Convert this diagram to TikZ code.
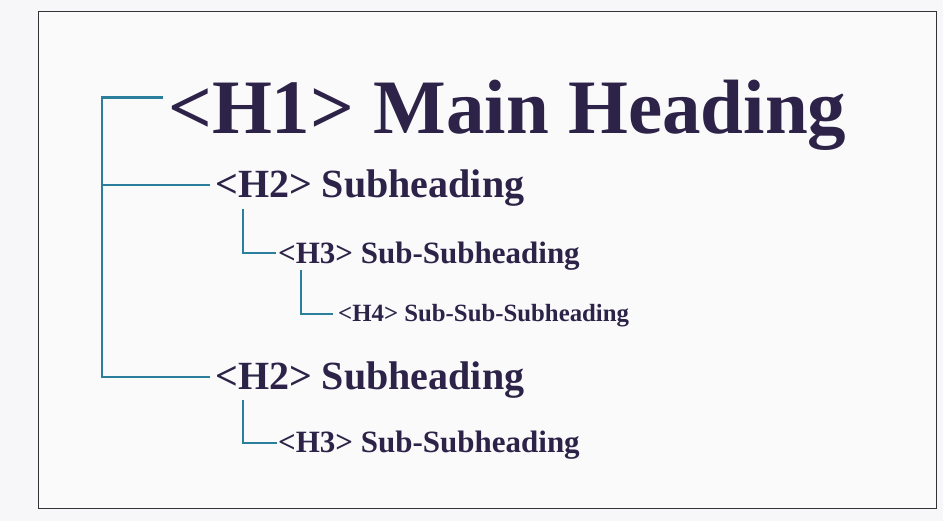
\documentclass[tikz,border=0pt]{standalone}
\usepackage{fontspec}
\setmainfont{Liberation Serif}
\definecolor{txt}{HTML}{2D2348}
\definecolor{teal}{HTML}{2B7E9C}
\definecolor{pagebg}{HTML}{F7F7F9}
\definecolor{boxbg}{HTML}{FAFAFB}
\definecolor{frame}{HTML}{333333}
\tikzset{
  head/.style={anchor=base west, inner sep=0pt, text=txt, font=\bfseries\fontsize{#1}{#1}\selectfont},
  conn/.style={draw=teal, line width=2.4pt, line cap=butt, line join=miter}
}
\begin{document}
\begin{tikzpicture}[x=1pt,y=-1pt]
\useasboundingbox (0,0) rectangle (943,521);
\fill[pagebg] (0,0) rectangle (943,521);
\draw[frame, fill=boxbg, line width=1.6pt] (38.5,11.5) rectangle (936.5,508.5);

% headings
\node[head=77] (h1) at (168,134) {<H1> Main Heading};
\node[head=40] (h2a) at (215,198) {<H2> Subheading};
\node[head=31] (h3a) at (278,264) {<H3> Sub-Subheading};
\node[head=24.8] (h4) at (338,322) {<H4> Sub-Sub-Subheading};
\node[head=40] (h2b) at (215,389) {<H2> Subheading};
\node[head=31] (h3b) at (278,453) {<H3> Sub-Subheading};

% connector points
\coordinate (mtop) at (102,97.5);
\coordinate (m2a) at (102,185);
\coordinate (mbot) at (102,377);
\coordinate (e1) at (163,97.5);
\coordinate (e2a) at (210,185);
\coordinate (e2b) at (210,377);
\coordinate (s3a) at (243,209);
\coordinate (c3a) at (243,253);
\coordinate (e3a) at (276,253);
\coordinate (s4) at (301,270);
\coordinate (c4) at (301,314);
\coordinate (e4) at (333,314);
\coordinate (s3b) at (243,400);
\coordinate (c3b) at (243,443);
\coordinate (e3b) at (277,443);

\draw[conn] (e1) -- (mtop) -- (mbot) -- (e2b);
\draw[conn] (m2a) -- (e2a);
\draw[conn] (s3a) -- (c3a) -- (e3a);
\draw[conn] (s4) -- (c4) -- (e4);
\draw[conn] (s3b) -- (c3b) -- (e3b);
\end{tikzpicture}
\end{document}
